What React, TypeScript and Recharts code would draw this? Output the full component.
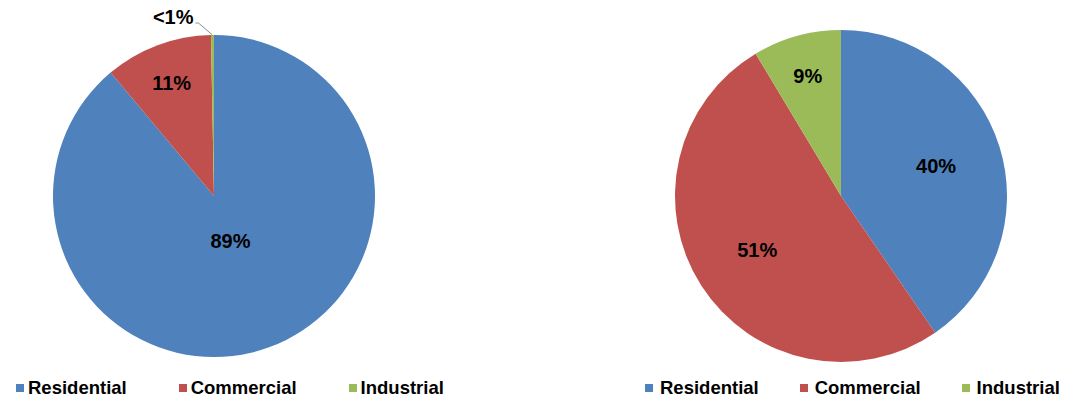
import { Cell, Legend, Pie, PieChart } from "recharts";

const categories = ["Residential", "Commercial", "Industrial"];
const leftValues = [88.9, 10.8, 0.3];
const rightValues = [40.4, 51.0, 8.6];

const colors = ["#4F81BD", "#C0504D", "#9BBB59"];
const fontFamily = '"Liberation Sans", Arial, Helvetica, sans-serif';
const RADIAN = Math.PI / 180;

const toData = (values: number[]) =>
  categories.map((name, i) => ({ name, value: values[i] }));

function formatPct(percent: number) {
  if (percent < 0.01) return "<1%";
  return `${Math.round(percent * 100)}%`;
}

function renderLabel(props: any) {
  const { cx, cy, midAngle, outerRadius, percent } = props;
  const cos = Math.cos(-midAngle * RADIAN);
  const sin = Math.sin(-midAngle * RADIAN);

  if (percent < 0.01) {
    // tiny slice: label outside with a leader line
    const sx = cx + outerRadius * cos;
    const sy = cy + outerRadius * sin;
    const mx = sx - 14;
    const my = sy - 12;
    const ex = mx - 3;
    return (
      <g>
        <polyline
          points={`${sx},${sy} ${mx},${my} ${ex},${my}`}
          stroke="#8c8c8c"
          strokeWidth={1}
          fill="none"
        />
        <text
          x={ex - 2}
          y={my - 6}
          textAnchor="end"
          dominantBaseline="central"
          fill="#000"
          fontSize={20}
          fontWeight="bold"
          fontFamily={fontFamily}
        >
          {formatPct(percent)}
        </text>
      </g>
    );
  }

  const f = percent > 0.7 ? 0.3 : percent < 0.15 ? 0.75 : 0.6;
  const x = cx + outerRadius * f * cos;
  const y = cy + outerRadius * f * sin;
  return (
    <text
      x={x}
      y={y}
      textAnchor="middle"
      dominantBaseline="central"
      fill="#000"
      fontSize={20}
      fontWeight="bold"
      fontFamily={fontFamily}
    >
      {formatPct(percent)}
    </text>
  );
}

function LegendBox({ markerGap, itemGap }: { markerGap: number; itemGap: number }) {
  return (
    <div style={{ display: "flex", alignItems: "center", gap: itemGap }}>
      {categories.map((name, i) => (
        <div key={name} style={{ display: "flex", alignItems: "center", gap: markerGap }}>
          <span style={{ width: 8, height: 8, background: colors[i], display: "inline-block" }} />
          <span
            style={{
              fontFamily,
              fontWeight: "bold",
              fontSize: 18.5,
              color: "#000",
              lineHeight: "22px"
            }}
          >
            {name}
          </span>
        </div>
      ))}
    </div>
  );
}

function PieBlock({
  values,
  cx,
  radius,
  legendLeft,
  markerGap,
  itemGap
}: {
  values: number[];
  cx: number;
  radius: number;
  legendLeft: number;
  markerGap: number;
  itemGap: number;
}) {
  const data = toData(values);
  return (
    <PieChart width={535} height={398} margin={{ top: 0, right: 0, bottom: 0, left: 0 }}>
      <Pie
        data={data}
        dataKey="value"
        nameKey="name"
        cx={cx}
        cy={196}
        outerRadius={radius}
        startAngle={90}
        endAngle={-270}
        stroke="none"
        label={renderLabel}
        labelLine={false}
        isAnimationActive={false}
      >
        {data.map((entry, index) => (
          <Cell key={entry.name} fill={colors[index]} />
        ))}
      </Pie>
      <Legend
        verticalAlign="bottom"
        wrapperStyle={{ top: 377, left: legendLeft, width: "auto", bottom: "auto" }}
        content={() => <LegendBox markerGap={markerGap} itemGap={itemGap} />}
      />
    </PieChart>
  );
}

export default function App() {
  return (
    <div
      style={{
        position: "absolute",
        left: 0,
        top: 0,
        width: 1070,
        height: 398,
        background: "#fff",
        display: "flex"
      }}
    >
      <PieBlock values={leftValues} cx={214} radius={161} legendLeft={16} markerGap={4} itemGap={52} />
      <PieBlock values={rightValues} cx={306} radius={166} legendLeft={110} markerGap={7} itemGap={41} />
    </div>
  );
}
